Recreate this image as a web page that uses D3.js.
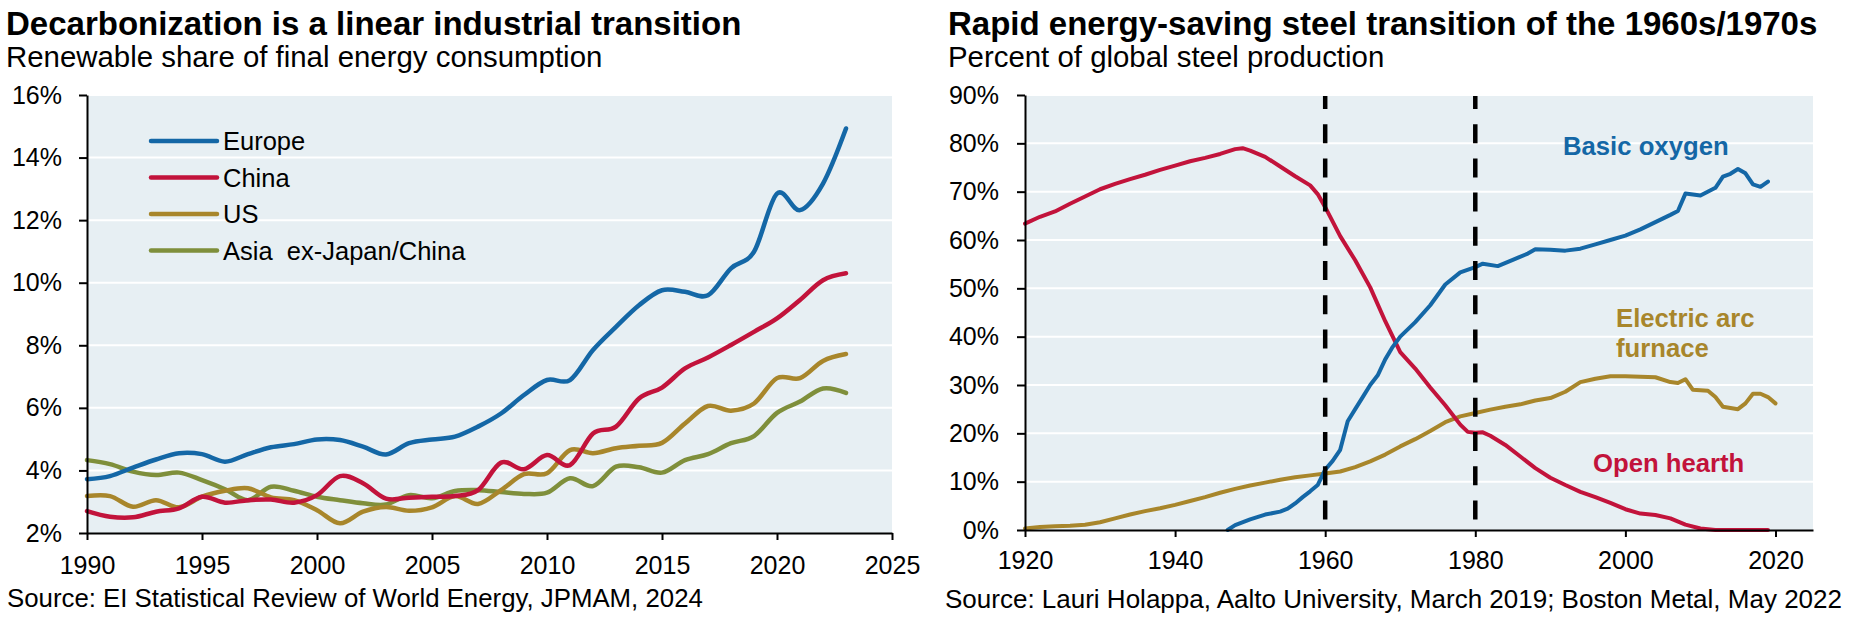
<!DOCTYPE html>
<html>
<head>
<meta charset="utf-8">
<script src="https://cdn.jsdelivr.net/npm/d3@7"></script>
<style>
  body { margin: 0; background: #fff; }
  text { font-family: "Liberation Sans", Arial, sans-serif; }
</style>
</head>
<body>
<svg id="chart" width="1860" height="618"></svg>
<script>
// Left panel: renewable share of final energy consumption (%)
var years = [1990, 1991, 1992, 1993, 1994, 1995, 1996, 1997, 1998, 1999,
             2000, 2001, 2002, 2003, 2004, 2005, 2006, 2007, 2008, 2009,
             2010, 2011, 2012, 2013, 2014, 2015, 2016, 2017, 2018, 2019,
             2020, 2021, 2022, 2023];
var europe = [3.72, 3.82, 4.09, 4.35, 4.55, 4.52, 4.28, 4.52, 4.74, 4.84,
              4.99, 4.97, 4.76, 4.51, 4.87, 4.99, 5.08, 5.40, 5.82, 6.41,
              6.89, 6.89, 7.85, 8.59, 9.28, 9.76, 9.71, 9.60, 10.46, 10.99,
              12.85, 12.32, 13.17, 14.93];
var china = [2.70, 2.52, 2.50, 2.68, 2.79, 3.16, 2.97, 3.05, 3.07, 2.97,
             3.21, 3.82, 3.59, 3.10, 3.13, 3.16, 3.18, 3.37, 4.25, 4.04,
             4.49, 4.17, 5.18, 5.40, 6.30, 6.65, 7.26, 7.61, 8.01, 8.43,
             8.86, 9.45, 10.08, 10.30];
var us = [3.18, 3.18, 2.84, 3.05, 2.82, 3.16, 3.35, 3.43, 3.14, 3.05,
          2.73, 2.31, 2.68, 2.83, 2.71, 2.82, 3.18, 2.93, 3.37, 3.88,
          3.91, 4.65, 4.55, 4.71, 4.79, 4.88, 5.50, 6.06, 5.91, 6.14,
          6.95, 6.95, 7.50, 7.72];
var asia = [4.33, 4.20, 3.96, 3.85, 3.93, 3.69, 3.40, 3.05, 3.48, 3.35,
            3.16, 3.05, 2.95, 2.91, 3.21, 3.11, 3.34, 3.37, 3.31, 3.25,
            3.29, 3.75, 3.50, 4.12, 4.10, 3.93, 4.33, 4.52, 4.87, 5.10,
            5.84, 6.20, 6.62, 6.48];
var leftNames = ["Europe", "China", "US", "Asia  ex-Japan/China"];
var leftYTicks = [2, 4, 6, 8, 10, 12, 14, 16];
var leftXTicks = [1990, 1995, 2000, 2005, 2010, 2015, 2020, 2025];

// Right panel: percent of global steel production
var ohYears = [1920, 1922, 1924, 1926, 1928, 1930, 1932, 1934, 1936, 1938,
               1940, 1942, 1944, 1946, 1948, 1949, 1950, 1952, 1954, 1956,
               1958, 1959, 1960, 1962, 1964, 1966, 1968, 1970, 1972, 1974,
               1976, 1978, 1979, 1980, 1981, 1982, 1984, 1986, 1988, 1990,
               1992, 1994, 1996, 1998, 2000, 2002, 2004, 2006, 2008, 2010,
               2012, 2019];
var openHearth = [63.4, 64.8, 65.9, 67.5, 69.0, 70.5, 71.6, 72.6, 73.5, 74.5,
                  75.4, 76.3, 77.0, 77.8, 78.8, 79.0, 78.5, 77.2, 75.2, 73.2,
                  71.3, 69.5, 66.8, 60.8, 55.8, 50.2, 43.2, 36.8, 33.4, 29.5,
                  25.8, 21.8, 20.3, 20.1, 20.2, 19.5, 17.6, 15.2, 12.8, 10.8,
                  9.3, 7.9, 6.8, 5.6, 4.3, 3.4, 3.1, 2.4, 1.1, 0.3,
                  0.0, 0.0];
var boYears = [1947, 1948, 1950, 1952, 1954, 1955, 1956, 1957, 1958, 1959,
               1960, 1961, 1962, 1963, 1964, 1965, 1966, 1967, 1968, 1969,
               1970, 1972, 1974, 1976, 1978, 1980, 1981, 1983, 1985, 1987,
               1988, 1990, 1992, 1994, 1996, 1998, 2000, 2002, 2004, 2006,
               2007, 2008, 2010, 2012, 2013, 2014, 2015, 2016, 2017, 2018,
               2019];
var basicOxygen = [0.0, 1.0, 2.2, 3.2, 3.8, 4.4, 5.5, 6.8, 8.0, 9.3,
                   12.5, 14.3, 16.6, 22.5, 25.0, 27.5, 30.0, 32.0, 35.3, 37.9,
                   40.0, 43.0, 46.5, 50.8, 53.3, 54.4, 55.1, 54.6, 55.9, 57.2,
                   58.1, 58.0, 57.8, 58.2, 59.1, 60.0, 60.9, 62.2, 63.7, 65.2,
                   66.0, 69.6, 69.2, 70.8, 73.1, 73.7, 74.7, 73.8, 71.5, 71.0,
                   72.1];
var eafYears = [1920, 1922, 1924, 1926, 1928, 1930, 1932, 1934, 1936, 1938,
                1940, 1942, 1944, 1946, 1948, 1950, 1952, 1954, 1956, 1958,
                1960, 1962, 1964, 1966, 1968, 1970, 1972, 1974, 1976, 1978,
                1980, 1982, 1984, 1986, 1988, 1990, 1992, 1994, 1996, 1998,
                2000, 2002, 2004, 2006, 2007, 2008, 2009, 2011, 2012, 2013,
                2015, 2016, 2017, 2018, 2019, 2020];
var electricArc = [0.3, 0.6, 0.8, 0.9, 1.1, 1.6, 2.4, 3.2, 3.9, 4.5,
                   5.2, 6.0, 6.8, 7.7, 8.5, 9.2, 9.8, 10.4, 10.9, 11.3,
                   11.7, 12.1, 13.0, 14.2, 15.6, 17.3, 18.8, 20.5, 22.3, 23.5,
                   24.2, 24.9, 25.5, 26.0, 26.8, 27.3, 28.6, 30.6, 31.3, 31.8,
                   31.8, 31.7, 31.6, 30.6, 30.4, 31.2, 29.0, 28.8, 27.5, 25.5,
                   25.0, 26.2, 28.2, 28.2, 27.5, 26.2];
var rightYTicks = [0, 10, 20, 30, 40, 50, 60, 70, 80, 90];
var rightXTicks = [1920, 1940, 1960, 1980, 2000, 2020];
var markerYears = [1960, 1980];

var blue = "#1467a6", red = "#c2133b", gold = "#a8862b", green = "#7f8f3b";
var plotBg = "#e7eff3";

var svg = d3.select("#chart");

// ---------- left panel ----------
var xL = d3.scaleLinear().domain([1990, 2025]).range([87, 892]);
var yL = d3.scaleLinear().domain([2, 16]).range([533, 95]);

svg.append("rect")
   .attr("x", xL.range()[0]).attr("y", yL.range()[1])
   .attr("width", xL.range()[1] - xL.range()[0])
   .attr("height", yL.range()[0] - yL.range()[1])
   .attr("fill", plotBg);

svg.append("g").selectAll("line")
   .data(leftYTicks.slice(1))
   .enter().append("line")
   .attr("x1", xL.range()[0]).attr("x2", xL.range()[1])
   .attr("y1", function(d){ return yL(d); })
   .attr("y2", function(d){ return yL(d); })
   .attr("stroke", "#fff").attr("stroke-width", 2);

var leftSeries = [europe, china, us, asia];
var leftColors = [blue, red, gold, green];

var lineL = d3.line()
   .x(function(d, i){ return xL(years[i]); })
   .y(function(d){ return yL(d); })
   .curve(d3.curveCardinal.tension(0));

svg.append("g").selectAll("path")
   .data(leftSeries.slice().reverse())
   .enter().append("path")
   .attr("d", lineL)
   .attr("fill", "none")
   .attr("stroke", function(d, i){ return leftColors.slice().reverse()[i]; })
   .attr("stroke-width", 4.5)
   .attr("stroke-linecap", "round")
   .attr("stroke-linejoin", "round");

// legend
var legend = svg.append("g").selectAll("g")
   .data(leftNames)
   .enter().append("g")
   .attr("transform", function(d, i){ return "translate(151," + (141 + 36.5 * i) + ")"; });
legend.append("line")
   .attr("x1", 0).attr("x2", 66)
   .attr("stroke", function(d, i){ return leftColors[i]; })
   .attr("stroke-width", 4.5).attr("stroke-linecap", "round");
legend.append("text")
   .attr("x", 72).attr("y", 9)
   .attr("font-size", 25.5)
   .attr("xml:space", "preserve")
   .style("white-space", "pre")
   .text(function(d){ return d; });

var axL = svg.append("g")
   .attr("transform", "translate(" + xL.range()[0] + ",0)")
   .call(d3.axisLeft(yL).tickValues(leftYTicks).tickSize(8).tickSizeOuter(0).tickPadding(17)
         .tickFormat(function(d){ return d + "%"; }));
var axLx = svg.append("g")
   .attr("transform", "translate(0," + yL.range()[0] + ")")
   .call(d3.axisBottom(xL).tickValues(leftXTicks).tickSize(7).tickSizeOuter(0).tickPadding(16)
         .tickFormat(d3.format("d")));

// ---------- right panel ----------
var xR = d3.scaleLinear().domain([1920, 2025]).range([1025, 1813]);
var yR = d3.scaleLinear().domain([0, 90]).range([530, 95]);

svg.append("rect")
   .attr("x", xR.range()[0]).attr("y", yR.range()[1])
   .attr("width", xR.range()[1] - xR.range()[0])
   .attr("height", yR.range()[0] - yR.range()[1])
   .attr("fill", plotBg);

svg.append("g").selectAll("line")
   .data(rightYTicks.slice(1))
   .enter().append("line")
   .attr("x1", xR.range()[0]).attr("x2", xR.range()[1])
   .attr("y1", function(d){ return yR(d); })
   .attr("y2", function(d){ return yR(d); })
   .attr("stroke", "#fff").attr("stroke-width", 2);

function lineR(xs){
  return d3.line()
     .x(function(d, i){ return xR(xs[i]); })
     .y(function(d){ return yR(d); });
}

var rightSeries = [
  {xs: eafYears, ys: electricArc, color: gold},
  {xs: ohYears, ys: openHearth, color: red},
  {xs: boYears, ys: basicOxygen, color: blue}
];
svg.append("g").selectAll("path")
   .data(rightSeries)
   .enter().append("path")
   .attr("d", function(s){ return lineR(s.xs)(s.ys); })
   .attr("fill", "none")
   .attr("stroke", function(s){ return s.color; })
   .attr("stroke-width", 4)
   .attr("stroke-linecap", "round")
   .attr("stroke-linejoin", "round");

// dashed markers at 1960 and 1980
svg.append("g").selectAll("line")
   .data(markerYears)
   .enter().append("line")
   .attr("x1", function(d){ return xR(d); })
   .attr("x2", function(d){ return xR(d); })
   .attr("y1", yR.range()[1] + 1).attr("y2", yR.range()[0])
   .attr("stroke", "#000").attr("stroke-width", 4.5)
   .attr("stroke-dasharray", "19,15.2").attr("stroke-dashoffset", 6);

var axR = svg.append("g")
   .attr("transform", "translate(" + xR.range()[0] + ",0)")
   .call(d3.axisLeft(yR).tickValues(rightYTicks).tickSize(8).tickSizeOuter(0).tickPadding(18)
         .tickFormat(function(d){ return d + "%"; }));
var axRx = svg.append("g")
   .attr("transform", "translate(0," + yR.range()[0] + ")")
   .call(d3.axisBottom(xR).tickValues(rightXTicks).tickSize(7).tickSizeOuter(0).tickPadding(14)
         .tickFormat(d3.format("d")));

[axL, axLx, axR, axRx].forEach(function(a){
  a.attr("font-size", 25).attr("font-family", "'Liberation Sans', Arial, sans-serif");
  a.selectAll("path.domain").attr("stroke", "#000").attr("stroke-width", 2);
  a.selectAll(".tick line").attr("stroke", "#000").attr("stroke-width", 2);
  a.selectAll(".tick text").attr("fill", "#000");
});

// series labels
var rightLabels = [
  {lines: ["Basic oxygen"], x: 1563, y: 155, color: blue},
  {lines: ["Electric arc", "furnace"], x: 1616, y: 327, color: gold},
  {lines: ["Open hearth"], x: 1593, y: 472, color: red}
];
rightLabels.forEach(function(l){
  var t = svg.append("text")
     .attr("x", l.x).attr("y", l.y)
     .attr("font-size", 25.7).attr("font-weight", "bold")
     .attr("fill", l.color);
  l.lines.forEach(function(s, i){
    t.append("tspan").attr("x", l.x).attr("dy", i === 0 ? 0 : 30).text(s);
  });
});

// titles, subtitles, sources
var texts = [
  {t: "Decarbonization is a linear industrial transition", x: 6, y: 35, size: 33, bold: true},
  {t: "Renewable share of final energy consumption", x: 6, y: 67, size: 29.4},
  {t: "Source: EI Statistical Review of World Energy, JPMAM, 2024", x: 7, y: 607, size: 25.8},
  {t: "Rapid energy-saving steel transition of the 1960s/1970s", x: 948, y: 35, size: 33, bold: true},
  {t: "Percent of global steel production", x: 948, y: 67, size: 29.4},
  {t: "Source: Lauri Holappa, Aalto University, March 2019; Boston Metal, May 2022", x: 945, y: 608, size: 26}
];
svg.append("g").selectAll("text")
   .data(texts)
   .enter().append("text")
   .attr("x", function(d){ return d.x; })
   .attr("y", function(d){ return d.y; })
   .attr("font-size", function(d){ return d.size; })
   .attr("font-weight", function(d){ return d.bold ? "bold" : "normal"; })
   .attr("fill", "#000")
   .text(function(d){ return d.t; });
</script>
</body>
</html>
